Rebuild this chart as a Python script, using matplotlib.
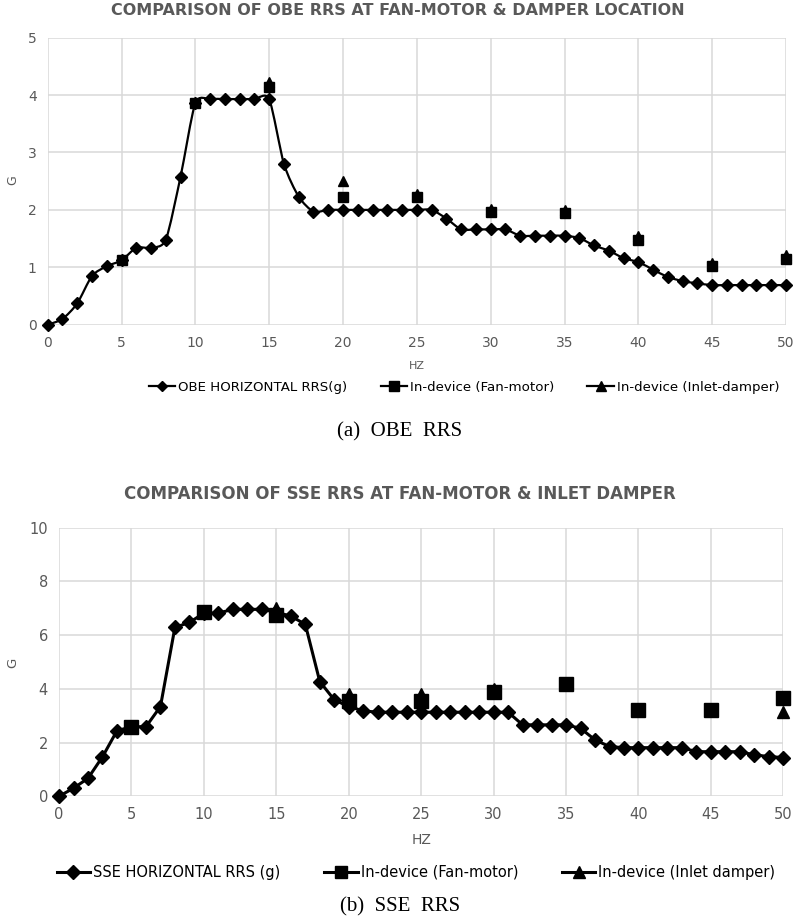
import numpy as np
import matplotlib
matplotlib.use("Agg")
import matplotlib.pyplot as plt
from matplotlib.path import Path
from matplotlib.patches import PathPatch
from matplotlib.lines import Line2D

# --- OBE data (top chart) ---
obe_hz = list(range(0, 51))
obe_rrs = [0.0, 0.10, 0.37, 0.85, 1.02, 1.12, 1.34, 1.34, 1.48, 2.58,
           3.86, 3.93, 3.93, 3.93, 3.93, 3.93, 2.80, 2.23, 1.97, 2.00,
           2.00, 2.00, 2.00, 2.00, 2.00, 2.00, 2.00, 1.85, 1.66, 1.66,
           1.66, 1.66, 1.55, 1.55, 1.55, 1.55, 1.51, 1.38, 1.29, 1.16,
           1.09, 0.96, 0.83, 0.76, 0.72, 0.69, 0.69, 0.69, 0.69, 0.69,
           0.69]
obe_fan_hz = [5, 10, 15, 20, 25, 30, 35, 40, 45, 50]
obe_fan = [1.12, 3.86, 4.14, 2.23, 2.23, 1.96, 1.94, 1.48, 1.03, 1.14]
obe_damper_hz = [15, 20, 25, 30, 35, 40, 45, 50]
obe_damper = [4.23, 2.51, 2.28, 2.02, 2.00, 1.55, 1.08, 1.22]

# --- SSE data (bottom chart) ---
sse_hz = list(range(0, 51))
sse_rrs = [0.0, 0.30, 0.67, 1.47, 2.44, 2.59, 2.59, 3.34, 6.29, 6.47,
           6.82, 6.82, 6.96, 6.96, 6.96, 6.85, 6.71, 6.40, 4.27, 3.59,
           3.34, 3.18, 3.13, 3.13, 3.13, 3.13, 3.13, 3.13, 3.13, 3.13,
           3.13, 3.13, 2.66, 2.66, 2.66, 2.66, 2.53, 2.10, 1.85, 1.81,
           1.81, 1.81, 1.81, 1.81, 1.66, 1.66, 1.66, 1.66, 1.54, 1.48,
           1.44]
sse_fan_hz = [5, 10, 15, 20, 25, 30, 35, 40, 45, 50]
sse_fan = [2.59, 6.85, 6.75, 3.55, 3.55, 3.90, 4.18, 3.21, 3.21, 3.65]
sse_damper_hz = [5, 10, 15, 20, 25, 30, 35, 40, 45, 50]
sse_damper = [2.59, 6.85, 7.00, 3.80, 3.80, 4.00, 4.18, 3.21, 3.25, 3.15]

GRID = "#d9d9d9"
TXT = "#595959"


def smooth_path(x, y, k=0.12):
    # smoothed line like Excel: cubic Bezier segments through the data points
    pts = np.column_stack([x, y]).astype(float)
    n = len(pts)
    verts = [pts[0]]
    codes = [Path.MOVETO]
    for i in range(n - 1):
        p0 = pts[max(i - 1, 0)]
        p1 = pts[i]
        p2 = pts[i + 1]
        p3 = pts[min(i + 2, n - 1)]
        verts += [p1 + (p2 - p0) * k, p2 - (p3 - p1) * k, p2]
        codes += [Path.CURVE4] * 3
    return Path(verts, codes)


def style_axes(ax, ymax, ystep, tick_size):
    ax.set_xlim(0, 50)
    ax.set_ylim(0, ymax)
    ax.set_xticks(range(0, 51, 5))
    ax.set_yticks(np.arange(0, ymax + 0.01, ystep))
    ax.grid(True, color=GRID, lw=1.1, zorder=0)
    for s in ax.spines.values():
        s.set_visible(False)
    ax.tick_params(length=0, colors=TXT, labelsize=tick_size, pad=8)
    ax.set_axisbelow(True)


fig = plt.figure(figsize=(8, 9.23), dpi=100)

# ---------------- top: OBE ----------------
ax1 = fig.add_axes([0.0596, 0.6482, 0.9229, 0.311])
style_axes(ax1, 5, 1, 10)
ax1.add_patch(PathPatch(smooth_path(obe_hz, obe_rrs), fill=False, ec="black", lw=1.6, zorder=3))
ax1.plot(obe_hz, obe_rrs, ls="none", marker="D", ms=6, color="black", zorder=4, clip_on=False)
ax1.plot(obe_damper_hz, obe_damper, ls="none", marker="^", ms=7, color="black", zorder=5, clip_on=False)
ax1.plot(obe_fan_hz, obe_fan, ls="none", marker="s", ms=7.5, color="black", zorder=6, clip_on=False)
ax1.set_xlabel("HZ", fontsize=8, color=TXT, labelpad=8)
fig.text(0.016, 0.805, "G", rotation=90, ha="center", va="center", fontsize=9, color=TXT)
fig.text(0.497, 0.989, "COMPARISON OF OBE RRS AT FAN-MOTOR & DAMPER LOCATION",
         ha="center", va="center", fontsize=11.5, fontweight="bold", color=TXT)

h1 = [Line2D([], [], color="black", lw=1.6, marker="D", ms=5.5),
      Line2D([], [], color="black", lw=1.6, marker="s", ms=7.5),
      Line2D([], [], color="black", lw=1.6, marker="^", ms=7)]
fig.legend(h1, ["OBE HORIZONTAL RRS(g)", "In-device (Fan-motor)", "In-device (Inlet-damper)"],
           loc="center", bbox_to_anchor=(0.58, 0.580), ncol=3, frameon=False,
           fontsize=9.6, handlelength=2.0, handletextpad=0.2, columnspacing=2.5)
fig.text(0.5, 0.532, "(a)  OBE  RRS", ha="center", va="center", fontsize=15,
         family="Liberation Serif")

# ---------------- bottom: SSE ----------------
ax2 = fig.add_axes([0.0738, 0.1373, 0.9054, 0.291])
style_axes(ax2, 10, 2, 10.5)
ax2.plot(sse_hz, sse_rrs, color="black", lw=2.2, marker="D", ms=7, zorder=4, clip_on=False)
ax2.plot(sse_damper_hz, sse_damper, ls="none", marker="^", ms=9, color="black", zorder=5, clip_on=False)
ax2.plot(sse_fan_hz, sse_fan, ls="none", marker="s", ms=9.5, color="black", zorder=6, clip_on=False)
ax2.set_xlabel("HZ", fontsize=10, color=TXT, labelpad=8)
fig.text(0.016, 0.282, "G", rotation=90, ha="center", va="center", fontsize=9.5, color=TXT)
fig.text(0.5, 0.465, "COMPARISON OF SSE RRS AT FAN-MOTOR & INLET DAMPER",
         ha="center", va="center", fontsize=12, fontweight="bold", color=TXT)

h2 = [Line2D([], [], color="black", lw=2.2, marker="D", ms=7),
      Line2D([], [], color="black", lw=2.2, marker="s", ms=9),
      Line2D([], [], color="black", lw=2.2, marker="^", ms=9)]
fig.legend(h2, ["SSE HORIZONTAL RRS (g)", "In-device (Fan-motor)", "In-device (Inlet damper)"],
           loc="center", bbox_to_anchor=(0.52, 0.055), ncol=3, frameon=False,
           fontsize=10.5, handlelength=2.3, handletextpad=0.2, columnspacing=3.0)
fig.text(0.5, 0.018, "(b)  SSE  RRS", ha="center", va="center", fontsize=15,
         family="Liberation Serif")

fig.savefig("out.png", dpi=100)
